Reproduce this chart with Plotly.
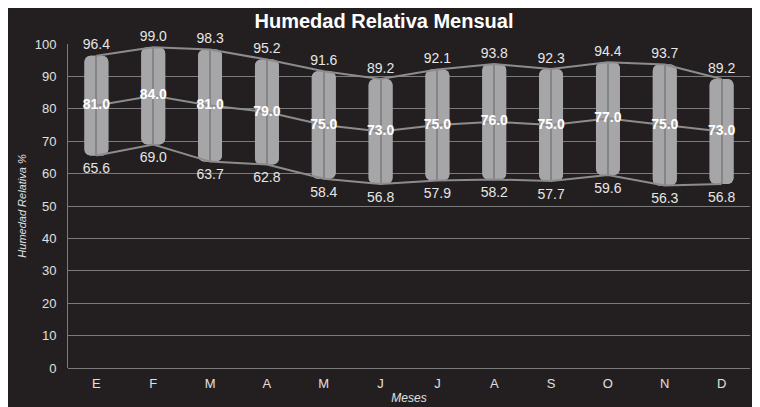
import plotly.graph_objects as go

# Datos mensuales de humedad relativa (%)
meses = ['E', 'F', 'M', 'A', 'M', 'J', 'J', 'A', 'S', 'O', 'N', 'D']
maxima = [96.4, 99.0, 98.3, 95.2, 91.6, 89.2, 92.1, 93.8, 92.3, 94.4, 93.7, 89.2]
media = [81.0, 84.0, 81.0, 79.0, 75.0, 73.0, 75.0, 76.0, 75.0, 77.0, 75.0, 73.0]
minima = [65.6, 69.0, 63.7, 62.8, 58.4, 56.8, 57.9, 58.2, 57.7, 59.6, 56.3, 56.8]

x = list(range(len(meses)))
rango = [hi - lo for hi, lo in zip(maxima, minima)]

fondo = '#231f20'
linea = '#8c8c8c'
gris_barra = '#a6a6a8'
fuente = 'Liberation Sans, Arial, sans-serif'

fig = go.Figure()

# lineas de max / media / min (detras de las barras)
for serie in (maxima, media, minima):
    fig.add_trace(go.Scatter(
        x=x, y=serie, mode='lines',
        line=dict(color=linea, width=2),
        hoverinfo='skip', showlegend=False
    ))

# barras flotantes min-max, redondeadas arriba y abajo
fig.add_trace(go.Bar(
    x=x, y=rango, base=minima, width=0.42,
    marker=dict(color=gris_barra, line=dict(width=0), cornerradius=6),
    showlegend=False
))
fig.add_trace(go.Bar(
    x=x, y=[-r for r in rango], base=maxima, width=0.42,
    marker=dict(color=gris_barra, line=dict(width=0), cornerradius=6),
    showlegend=False, hoverinfo='skip'
))
# linea central de la barra (efecto cilindro)
fig.add_trace(go.Bar(
    x=x, y=rango, base=minima, width=0.02,
    marker=dict(color='#858587', line=dict(width=0)),
    showlegend=False, hoverinfo='skip'
))

# etiquetas
fig.add_trace(go.Scatter(
    x=x, y=maxima, mode='markers+text', text=[f'{v:.1f}' for v in maxima],
    textposition='top center', marker=dict(size=3, color='rgba(0,0,0,0)'),
    textfont=dict(color='#e6e6e6', size=14, family=fuente),
    showlegend=False, hoverinfo='skip', cliponaxis=False
))
fig.add_trace(go.Scatter(
    x=x, y=media, mode='text', text=[f'<b>{v:.1f}</b>' for v in media],
    textposition='middle center',
    textfont=dict(color='#ffffff', size=14, family=fuente),
    showlegend=False, hoverinfo='skip', cliponaxis=False
))
fig.add_trace(go.Scatter(
    x=x, y=minima, mode='markers+text', text=[f'{v:.1f}' for v in minima],
    textposition='bottom center', marker=dict(size=10, color='rgba(0,0,0,0)'),
    textfont=dict(color='#e6e6e6', size=14, family=fuente),
    showlegend=False, hoverinfo='skip', cliponaxis=False
))

fig.update_layout(
    width=752, height=399,
    margin=dict(l=60, r=10, t=36, b=39),
    paper_bgcolor=fondo, plot_bgcolor=fondo,
    barmode='overlay',
    title=dict(text='<b>Humedad Relativa Mensual</b>', x=0.5, xanchor='center',
               y=0.985, yanchor='top',
               font=dict(color='white', size=20, family=fuente)),
    font=dict(family=fuente, color='#e0e0e0'),
)

fig.update_xaxes(
    tickmode='array', tickvals=x, ticktext=meses,
    range=[-0.5, len(meses) - 0.5],
    showgrid=False, zeroline=False, showline=False,
    tickfont=dict(size=13, color='#e0e0e0'),
    ticks='outside', ticklen=3, tickcolor=fondo,
    automargin=False,
    title=dict(text='<i>Meses</i>', font=dict(size=12, color='#e0e0e0'), standoff=4),
)
fig.update_yaxes(
    range=[0, 100], dtick=10,
    showgrid=True, gridcolor='#7a7a7a', gridwidth=1,
    zeroline=True, zerolinecolor='#7a7a7a', zerolinewidth=1,
    showline=True, linecolor='#7a7a7a', linewidth=1,
    tickfont=dict(size=13, color='#e0e0e0'),
    ticks='outside', ticklen=8, tickcolor=fondo,
    automargin=False,
    title=dict(text='<i>Humedad Relativa %</i>', font=dict(size=11, color='#e0e0e0'), standoff=5),
)

fig.write_html('out.html')
